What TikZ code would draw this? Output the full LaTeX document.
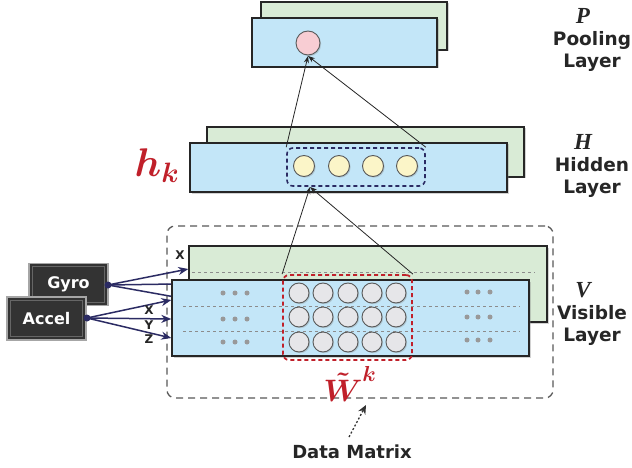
\RequirePackage{fix-cm}
\documentclass[tikz,border=0pt]{standalone}
\usepackage{amsmath}
\usepackage{fontspec}
\setmainfont{DejaVu Sans}
\newfontfamily\serifbi{Liberation Serif}
\usetikzlibrary{shadows,arrows.meta}
\definecolor{layblue}{HTML}{C3E6F8}
\definecolor{laygreen}{HTML}{D9EBD6}
\definecolor{pinkc}{HTML}{F8CDD3}
\definecolor{yelc}{HTML}{FBF5C8}
\definecolor{grayc}{HTML}{E6E6E9}
\definecolor{redk}{HTML}{C0202A}
\definecolor{navy}{HTML}{2B2B63}
\definecolor{darkbox}{HTML}{333333}
\tikzset{
  layer/.style={draw=black!85, line width=1.4pt, minimum width=#1, inner sep=0pt, drop shadow={shadow xshift=1.5pt, shadow yshift=-1.5pt, opacity=0.35}},
  bluelayer/.style={layer=#1, fill=layblue},
  greenlayer/.style={layer=#1, fill=laygreen},
  unit/.style={circle, draw=black!65, line width=0.9pt, minimum size=#1, inner sep=0pt, drop shadow={shadow xshift=1.2pt, shadow yshift=-1.2pt, opacity=0.3}},
  sensor/.style={draw=black!35, line width=1.5pt, fill=darkbox, text=white, font=\bfseries\fontsize{16}{16}\selectfont, minimum width=79pt, minimum height=42pt, inner sep=0pt},
  bevel/.style={draw=black!60, line width=0.7pt},
  navyarrow/.style={draw=navy, line width=1.5pt, -{Stealth[length=10pt,width=8pt]}},
  navyline/.style={draw=navy, line width=1.5pt},
  conn/.style={draw=black!85, line width=0.8pt, -{Stealth[length=7pt,width=5pt]}},
  axis/.style={font=\bfseries\fontsize{12}{12}\selectfont, text=black!85, inner sep=0pt},
  rlabel/.style={font=\bfseries\fontsize{18.5}{22}\selectfont, text=black!85, align=center, inner sep=0pt},
  rletter/.style={font=\serifbi\bfseries\itshape\fontsize{23}{23}\selectfont, text=black!85, inner sep=0pt},
  graydash/.style={draw=black!45, dashed, line width=0.8pt},
  dotg/.style={circle, fill=black!40, minimum size=5pt, inner sep=0pt},
}
\begin{document}
\begin{tikzpicture}[x=1pt,y=-1pt]
\useasboundingbox[fill=white] (0,0) rectangle (632,468);

% ---------- outer data-matrix frame
\node[draw=black!65, dashed, dash pattern=on 7pt off 5pt, line width=1.3pt, rounded corners=8pt, minimum width=386pt, minimum height=172pt, inner sep=0pt] (frame) at (360,312) {};

% ---------- pooling layer
\node[greenlayer=186pt, minimum height=48pt] (pback) at (354,26) {};
\node[bluelayer=185pt, minimum height=49pt] (pfront) at (344.5,42.5) {};
\node[unit=24pt, fill=pinkc] (pool) at (308,43) {};

% ---------- hidden layer
\node[greenlayer=317pt, minimum height=50pt] (hback) at (365.5,152) {};
\node[bluelayer=317pt, minimum height=49pt] (hfront) at (348.5,167.5) {};
\foreach \x [count=\i] in {304,339,373,407}
  \node[unit=21pt, fill=yelc] (h\i) at (\x,166) {};
\node[draw=navy, dashed, dash pattern=on 4pt off 3pt, line width=1.6pt, rounded corners=6pt, minimum width=138pt, minimum height=38pt, inner sep=0pt] (hbox) at (356,167) {};

% ---------- visible layer
\node[greenlayer=358pt, minimum height=76pt] (vback) at (368,284) {};
\draw[graydash] (192,272) -- (535,272);
% sensor lines going behind the front sheet
\node[sensor] (gyro) at (68.5,284.5) {};
\draw[bevel] ([shift={(4pt,-4pt)}]gyro.north west) rectangle ([shift={(-4pt,4pt)}]gyro.south east);
\node[text=white, font=\bfseries\fontsize{16}{16}\selectfont, inner sep=0pt] (gyrot) at (gyro.center) {Gyro};
\coordinate (gdot) at (108,285);
\draw[navyline] (gdot) -- (175,284);
\draw[navyline] (gdot) -- (175,297);
\node[bluelayer=357pt, minimum height=76pt] (vfront) at (350.5,318) {};
\draw[graydash] (183,306) -- (520,306);
\draw[graydash] (183,331) -- (520,331);
\foreach \y [count=\j] in {293,317,342}{
  \foreach \x [count=\i] in {299,323,348,372,396}
    \node[unit=20pt, fill=grayc] (v\j\i) at (\x,\y) {};
}
\foreach \y [count=\j] in {293,319,342}{
  \foreach \x in {223,235,247} \node[dotg] at (\x,\y) {};
}
\foreach \y [count=\j] in {292,317,340}{
  \foreach \x in {467,478,490} \node[dotg] at (\x,\y) {};
}
\node[draw=redk, dashed, dash pattern=on 4pt off 3pt, line width=1.8pt, rounded corners=6pt, minimum width=129pt, minimum height=85pt, inner sep=0pt] (wbox) at (347.5,317.5) {};

% ---------- sensors
\node[sensor, minimum height=43pt] (accel) at (46.5,318.5) {};
\draw[bevel] ([shift={(4pt,-4pt)}]accel.north west) rectangle ([shift={(-4pt,4pt)}]accel.south east);
\node[text=white, font=\bfseries\fontsize{16}{16}\selectfont, inner sep=0pt] (accelt) at (accel.center) {Accel};
\coordinate (adot) at (87,318);
\fill[navy] (gdot) circle (3.5pt);
\fill[navy] (adot) circle (3.5pt);
\draw[navyarrow] (gdot) -- (vback.west |- 0,269);
\draw[navyarrow] (adot) -- (vfront.west |- 0,300);
\draw[navyarrow] (adot) -- (vfront.west |- 0,319);
\draw[navyarrow] (adot) -- (vfront.west |- 0,338);
\node[axis] (ax0) at (180,255) {X};
\node[axis] (ax1) at (149,310) {X};
\node[axis] (ax2) at (149,325) {Y};
\node[axis] (ax3) at (149,339) {Z};

% ---------- connectors between layers
\coordinate (hin) at (310,187);
\coordinate (pin) at (308,56);
\draw[conn] (wbox.north west) -- (hin);
\draw[conn] (wbox.north east) -- (hin);
\draw[conn] (hbox.north west) -- (pin);
\draw[conn] (hbox.north east) -- (pin);

% ---------- math labels
\node[text=redk, inner sep=0pt, font=\fontsize{40}{40}\selectfont] (hk) at (157,166) {$\boldsymbol{h}_{\boldsymbol{k}}$};
\node[text=redk, inner sep=0pt, font=\fontsize{31}{31}\selectfont] (wk) at (350,384) {$\boldsymbol{\tilde{W}}^{\boldsymbol{k}}$};

% ---------- data matrix
\node[font=\bfseries\fontsize{18}{18}\selectfont, text=black!85, inner sep=0pt] (dm) at (352,452) {Data Matrix};
\draw[draw=black!80, line width=1.3pt, dash pattern=on 2pt off 2pt, -{Stealth[length=9pt,width=8pt]}] (349,437) -- (366,405);

% ---------- right-side labels
\node[rletter] (pl) at (583,16) {P};
\node[rlabel] (plab) at (592,51) {Pooling\\Layer};
\node[rletter] (hl) at (583,142) {H};
\node[rlabel] (hlab) at (592,177) {Hidden\\Layer};
\node[rletter] (vl) at (583,290) {V};
\node[rlabel] (vlab) at (592,325) {Visible\\Layer};
\end{tikzpicture}
\end{document}
